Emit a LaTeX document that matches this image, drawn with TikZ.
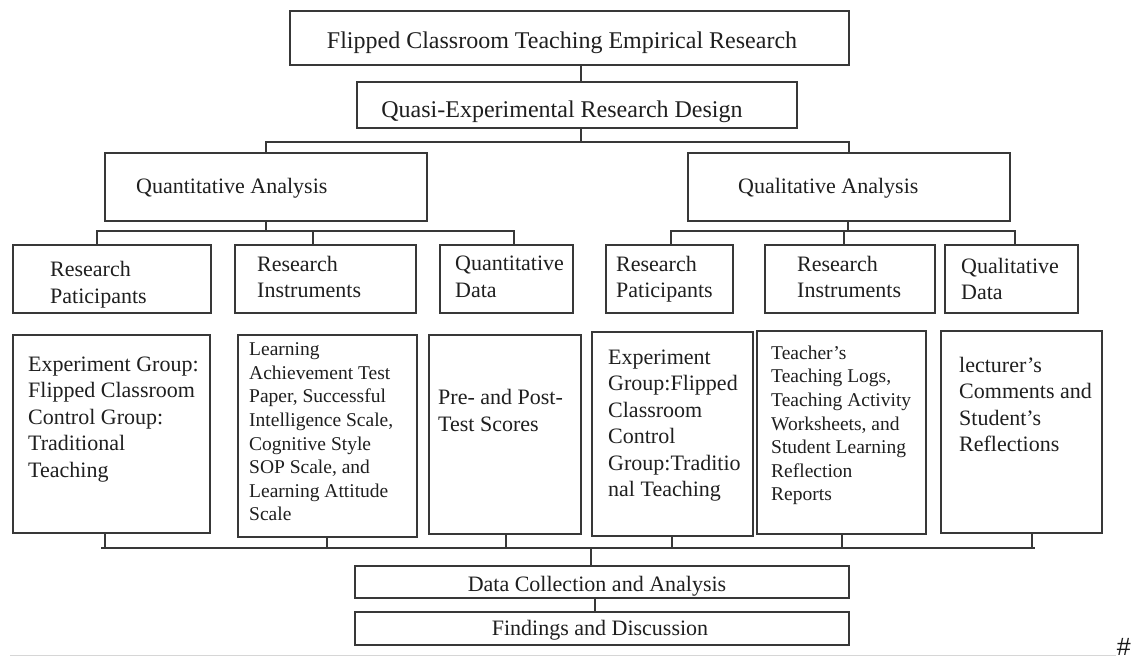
\documentclass[tikz,border=0pt]{standalone}
\usepackage{fontspec}
\setmainfont{Liberation Serif}
\newfontfamily\marksans{Liberation Sans}
\begin{document}
\begin{tikzpicture}[x=1pt,y=-1pt,
  box/.style={draw=black!78, line width=1.5pt, inner sep=0pt, outer sep=0pt, anchor=north west},
  link/.style={draw=black!78, line width=1.5pt},
  big/.style={font=\fontsize{24}{28}\selectfont, text=black!88, inner sep=0pt, anchor=base},
  mid/.style={font=\fontsize{22}{26.5}\selectfont, text=black!88, inner sep=0pt, anchor=base},
  txt/.style={font=\fontsize{22}{26.5}\selectfont, text=black!88, inner sep=0pt, align=left, anchor=north west},
  small/.style={font=\fontsize{19.5}{23.6}\selectfont, text=black!88, inner sep=0pt, align=left, anchor=north west},
]
\useasboundingbox[fill=white] (0,0) rectangle (1132,659);

% ---- top levels
\node[box, minimum width=559pt, minimum height=54pt] (top) at (290,11) {};
\node[big] (top-t) at (562,48) {Flipped Classroom Teaching Empirical Research};
\node[box, minimum width=440pt, minimum height=46pt] (quasi) at (357,82) {};
\node[big] (quasi-t) at (562,117) {Quasi-Experimental Research Design};

\node[box, minimum width=322pt, minimum height=68pt] (quant) at (105,153) {};
\node[mid, anchor=base west] (quant-t) at (136,193) {Quantitative Analysis};
\node[box, minimum width=322pt, minimum height=68pt] (qual) at (688,153) {};
\node[mid, anchor=base west] (qual-t) at (738,193) {Qualitative Analysis};

% ---- third level
\node[box, minimum width=198pt, minimum height=68pt] (rp1) at (13,245) {};
\node[txt] (rp1-t) at (50,261.5) {Research\\Paticipants};
\node[box, minimum width=181pt, minimum height=68pt] (ri1) at (235,245) {};
\node[txt] (ri1-t) at (257,256) {Research\\Instruments};
\node[box, minimum width=133pt, minimum height=68pt] (qd1) at (440,245) {};
\node[txt] (qd1-t) at (455,256) {Quantitative\\Data};
\node[box, minimum width=127pt, minimum height=68pt] (rp2) at (606,245) {};
\node[txt] (rp2-t) at (616,256) {Research\\Paticipants};
\node[box, minimum width=170pt, minimum height=68pt] (ri2) at (765,245) {};
\node[txt] (ri2-t) at (797,256) {Research\\Instruments};
\node[box, minimum width=133pt, minimum height=68pt] (qd2) at (945,245) {};
\node[txt] (qd2-t) at (961,258) {Qualitative\\Data};

% ---- detail boxes
\node[box, minimum width=197pt, minimum height=198pt] (b1) at (13,335) {};
\node[txt] (b1-t) at (28,356.5) {Experiment Group:\\Flipped Classroom\\Control Group:\\Traditional\\Teaching};
\node[box, minimum width=179pt, minimum height=202pt] (b2) at (238,335) {};
\node[small] (b2-t) at (249,342.5) {Learning\\Achievement Test\\Paper, Successful\\Intelligence Scale,\\Cognitive Style\\SOP Scale, and\\Learning Attitude\\Scale};
\node[box, minimum width=152pt, minimum height=199pt] (b3) at (429,335) {};
\node[txt] (b3-t) at (438,389.5) {Pre- and Post-\\Test Scores};
\node[box, minimum width=161pt, minimum height=204pt] (b4) at (592,332) {};
\node[txt] (b4-t) at (608,349.5) {Experiment\\Group:Flipped\\Classroom\\Control\\Group:Traditio\\nal Teaching};
\node[box, minimum width=169pt, minimum height=203pt] (b5) at (757,331) {};
\node[small] (b5-t) at (771,345.5) {Teacher’s\\Teaching Logs,\\Teaching Activity\\Worksheets, and\\Student Learning\\Reflection\\Reports};
\node[box, minimum width=161pt, minimum height=202pt] (b6) at (941,331) {};
\node[txt] (b6-t) at (959,357) {lecturer’s\\Comments and\\Student’s\\Reflections};

% ---- bottom boxes
\node[box, minimum width=494pt, minimum height=32pt] (dc) at (355,566) {};
\node[mid] (dc-t) at (597,591) {Data Collection and Analysis};
\node[box, minimum width=494pt, minimum height=33pt] (fd) at (355,612) {};
\node[mid] (fd-t) at (600,635) {Findings and Discussion};

% ---- connectors, top part
\coordinate (j0) at (581,142);
\coordinate (jL) at (266,142);
\coordinate (jR) at (849,142);
\draw[link] (top.south -| j0) -- (quasi.north -| j0);
\draw[link] (quasi.south -| j0) -- (j0);
\draw[link] (quant.north -| jL) -- (jL) -- (jR) -- (qual.north -| jR);

\coordinate (qa) at (266,231);
\coordinate (qaL) at (97,231);
\coordinate (qaM) at (313,231);
\coordinate (qaR) at (514,231);
\draw[link] (quant.south -| qa) -- (qa);
\draw[link] (rp1.north -| qaL) -- (qaL) -- (qaR) -- (qd1.north -| qaR);
\draw[link] (qaM) -- (ri1.north -| qaM);

\coordinate (ql) at (848,231);
\coordinate (qlL) at (671,231);
\coordinate (qlM) at (844,231);
\coordinate (qlR) at (1015,231);
\draw[link] (qual.south -| ql) -- (ql);
\draw[link] (rp2.north -| qlL) -- (qlL) -- (qlR) -- (qd2.north -| qlR);
\draw[link] (qlM) -- (ri2.north -| qlM);

% ---- connectors, bottom part
\coordinate (busL) at (101,548);
\coordinate (busR) at (1035,548);
\draw[link] (busL) -- (busR);
\coordinate (k1) at (105,548);
\coordinate (k2) at (327,548);
\coordinate (k3) at (506,548);
\coordinate (k4) at (672,548);
\coordinate (k5) at (842,548);
\coordinate (k6) at (1032,548);
\draw[link] (b1.south -| k1) -- (k1);
\draw[link] (b2.south -| k2) -- (k2);
\draw[link] (b3.south -| k3) -- (k3);
\draw[link] (b4.south -| k4) -- (k4);
\draw[link] (b5.south -| k5) -- (k5);
\draw[link] (b6.south -| k6) -- (k6);
\coordinate (kd) at (591,548);
\draw[link] (kd) -- (dc.north -| kd);
\coordinate (kf) at (595,605);
\draw[link] (dc.south -| kf) -- (fd.north -| kf);

% ---- page rule and mark
\coordinate (ruleL) at (10,655.5);
\coordinate (ruleR) at (1116,655.5);
\draw[black!16, line width=1.6pt] (ruleL) -- (ruleR);
\node[font=\fontsize{25}{30}\selectfont\marksans, text=black!90, inner sep=0pt, anchor=base east] (hash) at (1131,655) {\#};
\end{tikzpicture}
\end{document}
